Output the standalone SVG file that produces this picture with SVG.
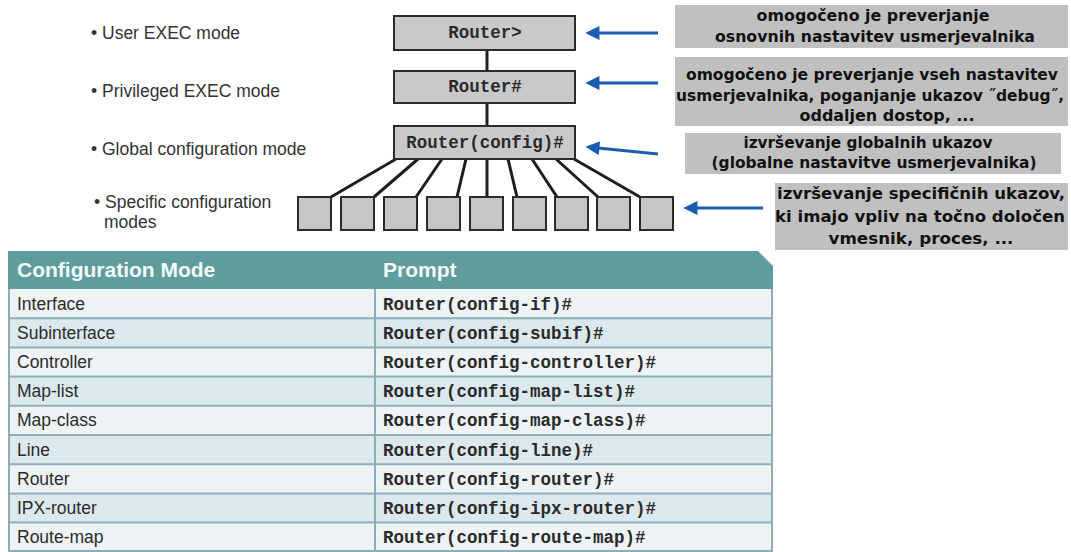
<svg xmlns="http://www.w3.org/2000/svg" width="1071" height="552" viewBox="0 0 1071 552">
<defs>
<marker id="ah" viewBox="0 0 10 10" refX="1" refY="5" markerWidth="5" markerHeight="4.4" orient="auto-start-reverse" markerUnits="strokeWidth">
<path d="M0,0 L10,5 L0,10 Z" fill="#1b5db3"/>
</marker>
<style>
.bg{fill:#ffffff}
.lbl{font-family:"Liberation Sans",Arial,sans-serif;font-size:17.5px;fill:#333333}
.mode{fill:#c9c9c9;stroke:#2b2b2b;stroke-width:2}
.sub{fill:#c6c6c6;stroke:#2b2b2b;stroke-width:2}
.mono{font-family:"Liberation Mono","Courier New",monospace;font-weight:bold;font-size:17.5px;fill:#2a2a2a}
.link{stroke:#1e1e1e;stroke-width:3;fill:none}
.arrow{stroke:#1b5db3;stroke-width:3.2;fill:none;marker-end:url(#ah)}
.note{fill:#c0c0c0}
.nt{font-family:"DejaVu Sans",Verdana,sans-serif;font-weight:bold;font-size:15px;fill:#111111;text-anchor:middle}
.hdr{fill:#5f9c9e}
.ht{font-family:"Liberation Sans",Arial,sans-serif;font-weight:bold;font-size:21px;fill:#f4fafa}
.rowA{fill:#eef3f5}
.rowB{fill:#dbe9ee}
.sep{stroke:#8eaeb5;stroke-width:2}
.ct{font-family:"Liberation Sans",Arial,sans-serif;font-size:17.5px;fill:#2b2b2b}
</style>
</defs>
<rect class="bg" x="0" y="0" width="1071" height="552"/>

<g id="labels">
<text class="lbl" x="91" y="39">• User EXEC mode</text>
<text class="lbl" x="91" y="97">• Privileged EXEC mode</text>
<text class="lbl" x="91" y="155">• Global configuration mode</text>
<text class="lbl" x="94" y="208">• Specific configuration</text>
<text class="lbl" x="104" y="228">modes</text>
</g>

<g id="connectors">
<line class="link" x1="487" y1="50" x2="487" y2="71"/>
<line class="link" x1="487" y1="103" x2="487" y2="126"/>
<line class="link" x1="396" y1="159" x2="331" y2="197"/>
<line class="link" x1="418" y1="159" x2="374" y2="197"/>
<line class="link" x1="442" y1="159" x2="416" y2="197"/>
<line class="link" x1="466" y1="159" x2="457" y2="197"/>
<line class="link" x1="487" y1="159" x2="487" y2="197"/>
<line class="link" x1="508" y1="159" x2="517" y2="197"/>
<line class="link" x1="532" y1="159" x2="557" y2="197"/>
<line class="link" x1="556" y1="159" x2="598" y2="197"/>
<line class="link" x1="574" y1="159" x2="640" y2="197"/>
<line class="arrow" x1="658" y1="33" x2="598" y2="33"/>
<line class="arrow" x1="658" y1="83" x2="598" y2="83"/>
<line class="arrow" x1="658" y1="154" x2="598" y2="148"/>
<line class="arrow" x1="763" y1="208" x2="696" y2="208"/>
</g>

<g id="user-exec">
<rect class="mode" x="394" y="16" width="181" height="34"/>
<text class="mono" x="485" y="38" text-anchor="middle">Router&gt;</text>
</g>
<g id="privileged-exec">
<rect class="mode" x="394" y="71" width="181" height="32"/>
<text class="mono" x="485" y="92" text-anchor="middle">Router#</text>
</g>
<g id="global-config">
<rect class="mode" x="394" y="126" width="181" height="33"/>
<text class="mono" x="485" y="148" text-anchor="middle">Router(config)#</text>
</g>
<g id="specific-modes">
<rect class="sub" x="298" y="197" width="33" height="33"/>
<rect class="sub" x="341" y="197" width="33" height="33"/>
<rect class="sub" x="384" y="197" width="33" height="33"/>
<rect class="sub" x="427" y="197" width="33" height="33"/>
<rect class="sub" x="470" y="197" width="33" height="33"/>
<rect class="sub" x="513" y="197" width="33" height="33"/>
<rect class="sub" x="555" y="197" width="33" height="33"/>
<rect class="sub" x="597" y="197" width="33" height="33"/>
<rect class="sub" x="640" y="197" width="33" height="33"/>
</g>

<g id="note-user">
<rect class="note" x="675" y="5" width="393" height="43"/>
<text class="nt" x="873" y="21" textLength="233" lengthAdjust="spacingAndGlyphs">omogočeno je preverjanje</text>
<text class="nt" x="875" y="42" textLength="320" lengthAdjust="spacingAndGlyphs">osnovnih nastavitev usmerjevalnika</text>
</g>
<g id="note-privileged">
<rect class="note" x="675" y="57" width="393" height="69"/>
<text class="nt" x="872" y="80" textLength="372" lengthAdjust="spacingAndGlyphs">omogočeno je preverjanje vseh nastavitev</text>
<text class="nt" x="870" y="101" textLength="388" lengthAdjust="spacingAndGlyphs">usmerjevalnika, poganjanje ukazov ˝debug˝,</text>
<text class="nt" x="887" y="121" textLength="175" lengthAdjust="spacingAndGlyphs">oddaljen dostop, ...</text>
</g>
<g id="note-global">
<rect class="note" x="685" y="133" width="376" height="41"/>
<text class="nt" x="868" y="148" textLength="249" lengthAdjust="spacingAndGlyphs">izvrševanje globalnih ukazov</text>
<text class="nt" x="874" y="168" textLength="325" lengthAdjust="spacingAndGlyphs">(globalne nastavitve usmerjevalnika)</text>
</g>
<g id="note-specific">
<rect class="note" x="775" y="183" width="293" height="67"/>
<text class="nt" x="921" y="199" textLength="288" lengthAdjust="spacingAndGlyphs">izvrševanje specifičnih ukazov,</text>
<text class="nt" x="920" y="222" textLength="290" lengthAdjust="spacingAndGlyphs">ki imajo vpliv na točno določen</text>
<text class="nt" x="921" y="244" textLength="185" lengthAdjust="spacingAndGlyphs">vmesnik, proces, ...</text>
</g>

<g id="table">
<path class="hdr" d="M8,251 H758 L773,266 V289 H8 Z"/>
<text class="ht" x="17" y="277">Configuration Mode</text>
<text class="ht" x="383" y="277">Prompt</text>
<rect class="rowA" x="8" y="289" width="764" height="29.2"/>
<rect class="rowB" x="8" y="318.2" width="764" height="29.2"/>
<rect class="rowA" x="8" y="347.4" width="764" height="29.2"/>
<rect class="rowB" x="8" y="376.6" width="764" height="29.2"/>
<rect class="rowA" x="8" y="405.8" width="764" height="29.2"/>
<rect class="rowB" x="8" y="435" width="764" height="29.2"/>
<rect class="rowA" x="8" y="464.2" width="764" height="29.2"/>
<rect class="rowB" x="8" y="493.4" width="764" height="29.2"/>
<rect class="rowA" x="8" y="522.6" width="764" height="29.4"/>
<line class="sep" x1="8" y1="318.2" x2="772" y2="318.2"/>
<line class="sep" x1="8" y1="347.4" x2="772" y2="347.4"/>
<line class="sep" x1="8" y1="376.6" x2="772" y2="376.6"/>
<line class="sep" x1="8" y1="405.8" x2="772" y2="405.8"/>
<line class="sep" x1="8" y1="435" x2="772" y2="435"/>
<line class="sep" x1="8" y1="464.2" x2="772" y2="464.2"/>
<line class="sep" x1="8" y1="493.4" x2="772" y2="493.4"/>
<line class="sep" x1="8" y1="522.6" x2="772" y2="522.6"/>
<line class="sep" x1="8" y1="551" x2="772" y2="551"/>
<line class="sep" x1="9" y1="289" x2="9" y2="552"/>
<line class="sep" x1="375" y1="289" x2="375" y2="552"/>
<line class="sep" x1="772" y1="289" x2="772" y2="552"/>
<text class="ct" x="17" y="309.5">Interface</text>
<text class="ct" x="17" y="338.7">Subinterface</text>
<text class="ct" x="17" y="367.9">Controller</text>
<text class="ct" x="17" y="397.1">Map-list</text>
<text class="ct" x="17" y="426.3">Map-class</text>
<text class="ct" x="17" y="455.5">Line</text>
<text class="ct" x="17" y="484.7">Router</text>
<text class="ct" x="17" y="513.9">IPX-router</text>
<text class="ct" x="17" y="543.1">Route-map</text>
<text class="mono" x="383" y="309.5">Router(config-if)#</text>
<text class="mono" x="383" y="338.7">Router(config-subif)#</text>
<text class="mono" x="383" y="367.9">Router(config-controller)#</text>
<text class="mono" x="383" y="397.1">Router(config-map-list)#</text>
<text class="mono" x="383" y="426.3">Router(config-map-class)#</text>
<text class="mono" x="383" y="455.5">Router(config-line)#</text>
<text class="mono" x="383" y="484.7">Router(config-router)#</text>
<text class="mono" x="383" y="513.9">Router(config-ipx-router)#</text>
<text class="mono" x="383" y="543.1">Router(config-route-map)#</text>
</g>
</svg>
